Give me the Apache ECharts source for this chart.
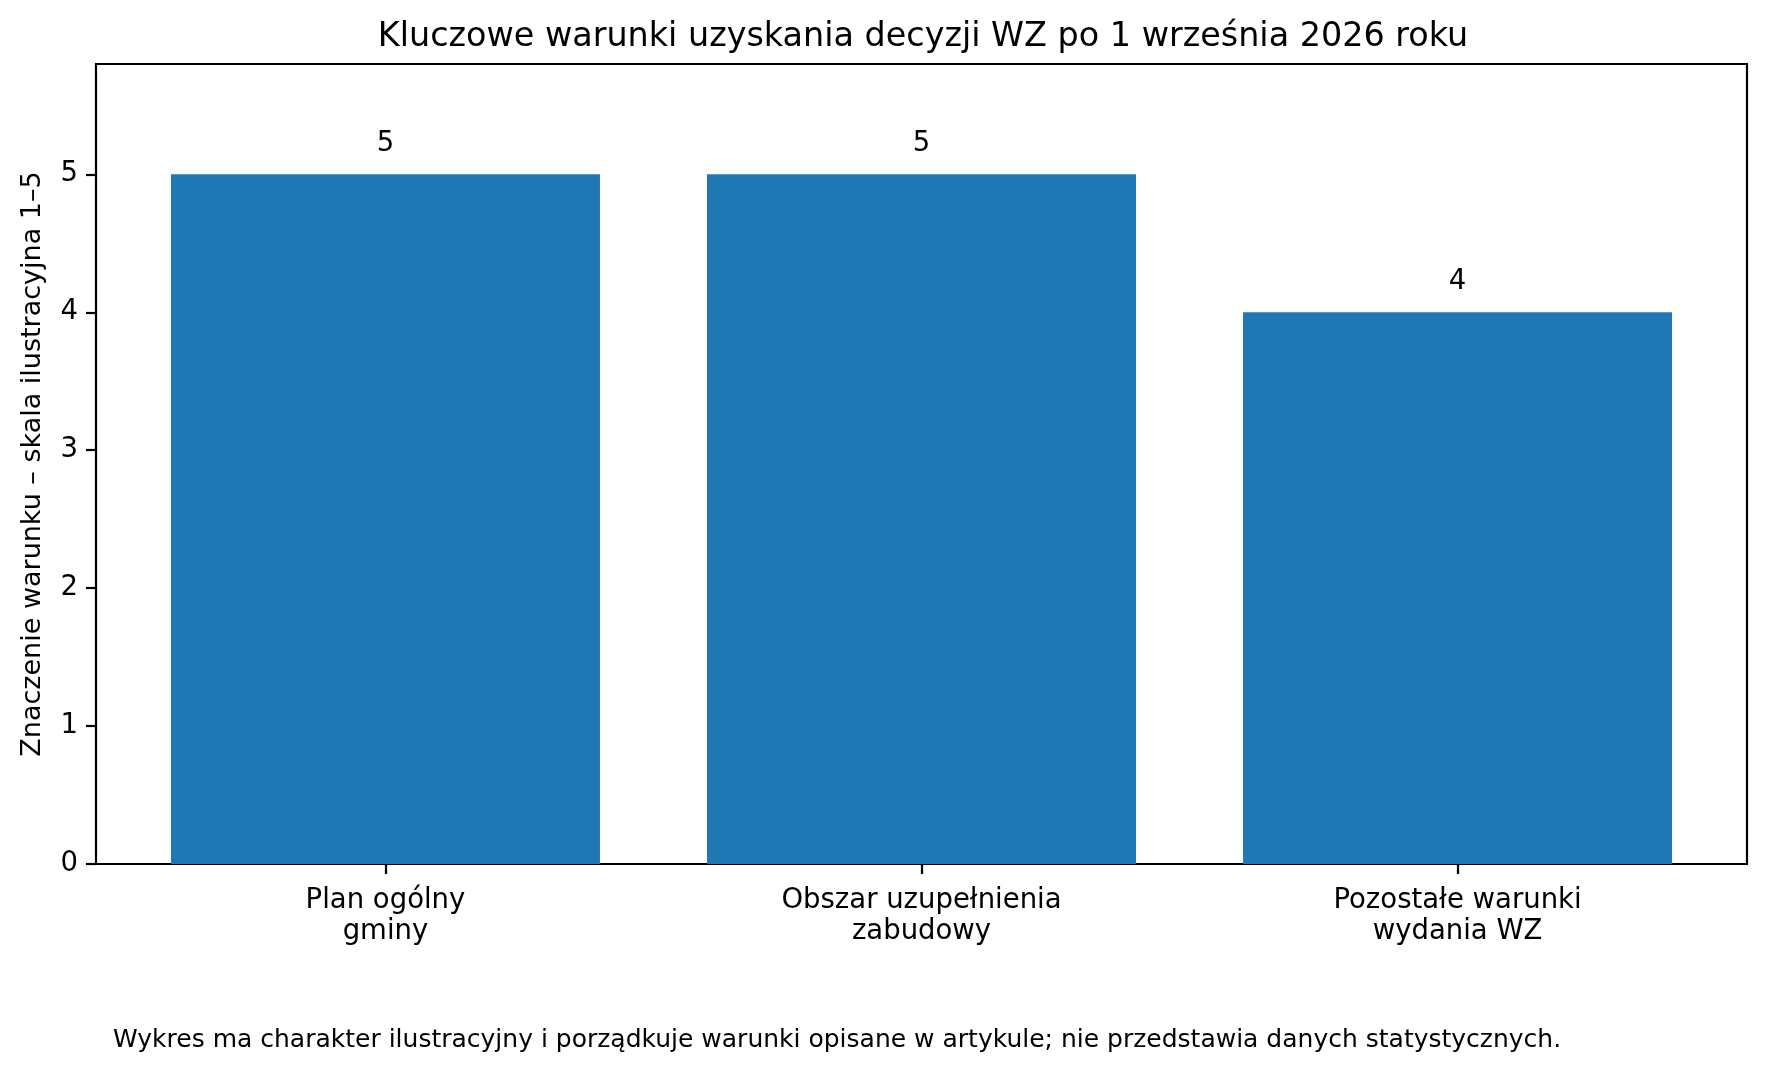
<!DOCTYPE html>
<html lang="pl">

<head>
    <meta charset="UTF-8">
    <title>Warunki WZ</title>
    <script src="https://cdn.jsdelivr.net/npm/echarts@6.0.0/dist/echarts.min.js"></script>
    <style>
        html, body { margin: 0; padding: 0; background: #fff; }
        #main { width: 1769px; height: 1075px; }
    </style>
</head>

<body>
    <div id="main"></div>
    <script>
        // dane wykresu
        var categories = ['Plan ogólny\ngminy', 'Obszar uzupełnienia\nzabudowy', 'Pozostałe warunki\nwydania WZ'];
        var values = [5, 5, 4];
        var yTicks = [0, 1, 2, 3, 4, 5];

        var FONT = 'DejaVu Sans';
        var chart = echarts.init(document.getElementById('main'));

        var option = {
            backgroundColor: '#fff',
            animation: false,
            textStyle: { fontFamily: FONT },
            title: {
                text: 'Kluczowe warunki uzyskania decyzji WZ po 1 września 2026 roku',
                left: 918, textAlign: 'center', top: 16,
                textStyle: { fontFamily: FONT, fontSize: 33.4, fontWeight: 'normal', color: '#000' }
            },
            grid: {
                left: 96, right: 22, top: 64, bottom: 211,
                show: true, borderColor: '#000', borderWidth: 2.2,
                backgroundColor: 'transparent'
            },
            xAxis: {
                type: 'value', min: -0.54, max: 2.54,
                splitLine: { show: false },
                axisLine: { show: false, onZero: false },
                axisTick: { show: true, length: 10, customValues: [0, 1, 2], lineStyle: { color: '#000', width: 2.2 } },
                axisLabel: {
                    customValues: [0, 1, 2],
                    formatter: function (v) { return categories[Math.round(v)]; },
                    fontFamily: FONT, fontSize: 27.5, color: '#000', lineHeight: 31, margin: 21
                }
            },
            yAxis: {
                type: 'value', min: 0, max: 5.8, interval: 1,
                name: 'Znaczenie warunku – skala ilustracyjna 1–5',
                nameLocation: 'middle', nameGap: 50,
                nameTextStyle: { fontFamily: FONT, fontSize: 27, color: '#000' },
                splitLine: { show: false },
                axisLine: { show: false, onZero: false },
                axisTick: { show: true, length: 10, customValues: yTicks, lineStyle: { color: '#000', width: 2.2 } },
                axisLabel: {
                    customValues: yTicks,
                    fontFamily: FONT, fontSize: 27.5, color: '#000', margin: 18
                }
            },
            series: [{
                type: 'bar',
                barWidth: 429,
                data: values.map(function (v, i) { return [i, v]; }),
                itemStyle: { color: '#1f77b4' },
                label: {
                    show: true, position: 'top', distance: 16,
                    formatter: function (p) { return p.value[1]; },
                    fontFamily: FONT, fontSize: 27.5, color: '#000'
                }
            }],
            graphic: [{
                type: 'text', left: 113, top: 1028,
                style: {
                    text: 'Wykres ma charakter ilustracyjny i porządkuje warunki opisane w artykule; nie przedstawia danych statystycznych.',
                    font: '25px "DejaVu Sans"', fill: '#000'
                }
            }]
        };

        chart.setOption(option);
        window.addEventListener('resize', function () {
            chart.resize();
        });
    </script>
</body>

</html>
